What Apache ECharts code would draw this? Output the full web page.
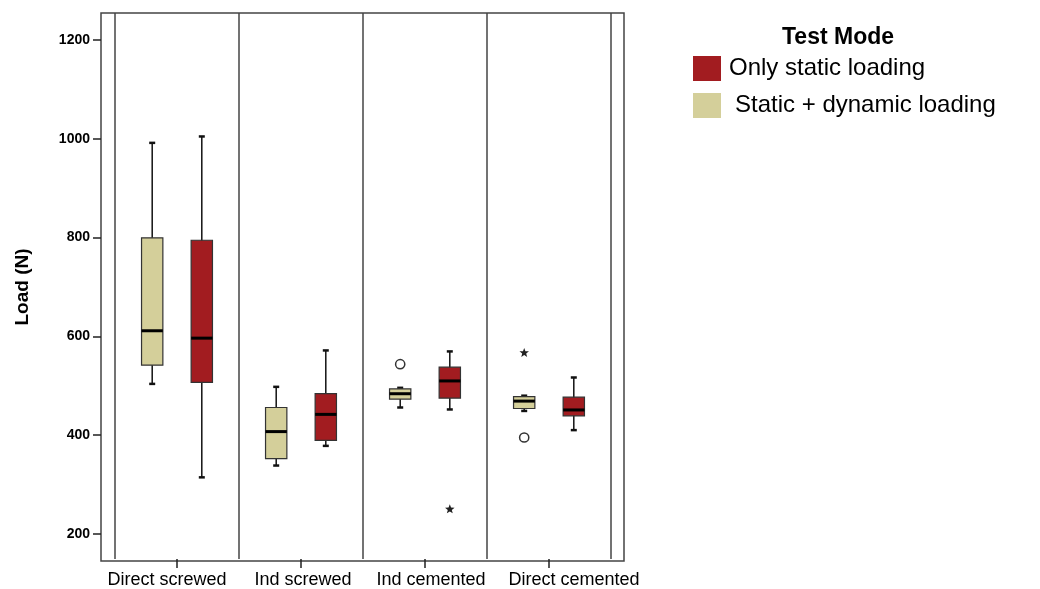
<!DOCTYPE html>
<html>
<head>
<meta charset="utf-8">
<title>Load by implant connection and test mode</title>
<script src="https://cdn.jsdelivr.net/npm/echarts@6/dist/echarts.min.js"></script>
<style>
  html, body { margin: 0; padding: 0; background: #fff; }
  #chart { width: 1040px; height: 589px; }
</style>
</head>
<body>
<div id="chart"></div>
<script>
// Connection types along the x axis
const categories = ['Direct screwed', 'Ind screwed', 'Ind cemented', 'Direct cemented'];

// Five-number summaries per category: [min, Q1, median, Q3, max] in N
const staticDynamic = [
  [501, 539, 609, 798, 991],
  [335, 349, 404, 453, 495],
  [453, 470, 481, 491, 493],
  [446, 451, 466, 475, 477]
];
const onlyStatic = [
  [311, 504, 594, 793, 1004],
  [375, 386, 439, 481, 569],
  [449, 472, 507, 535, 567],
  [407, 436, 448, 474, 514]
];

// Outliers: [category index, load, marker]
const staticDynamicOutliers = [
  [2, 541, 'circle'],
  [3, 564, 'star'],
  [3, 392, 'circle']
];
const onlyStaticOutliers = [
  [2, 246, 'star']
];

const yTicks = [200, 400, 600, 800, 1000, 1200];
const yMin = 145;
const yMax = 1255;

const TAN = '#D4CF9A';
const RED = '#A21C20';
const FONT = '"Liberation Sans", Arial, Helvetica, sans-serif';

// Boxes sit left (-1) or right (+1) of the category centre
const SIDE_SHIFT = 0.2;   // fraction of the band
const BOX_HALF = 0.086;   // fraction of the band

// Horizontal nudges of the category labels (px, + moves right)
const labelNudge = [-10, 2, 6, 25];

function boxRenderer(side, fill) {
  return function (params, api) {
    const cat = api.value(0);
    const band = api.size([1, 0])[0];
    const cx = api.coord([cat, 0])[0] + side * band * SIDE_SHIFT;
    const half = band * BOX_HALF;
    const y = (v) => api.coord([cat, v])[1];
    const yLo = y(api.value(1));
    const yQ1 = y(api.value(2));
    const yMed = y(api.value(3));
    const yQ3 = y(api.value(4));
    const yHi = y(api.value(5));
    const capHalf = 3;
    const line = { stroke: '#111', lineWidth: 1.5 };
    return {
      type: 'group',
      children: [
        { type: 'line', shape: { x1: cx, y1: yHi, x2: cx, y2: yLo }, style: line },
        { type: 'line', shape: { x1: cx - capHalf, y1: yHi, x2: cx + capHalf, y2: yHi }, style: { stroke: '#111', lineWidth: 2.5 } },
        { type: 'line', shape: { x1: cx - capHalf, y1: yLo, x2: cx + capHalf, y2: yLo }, style: { stroke: '#111', lineWidth: 2.5 } },
        { type: 'rect', shape: { x: cx - half, y: yQ3, width: half * 2, height: yQ1 - yQ3 },
          style: { fill: fill, stroke: '#333', lineWidth: 1.2 } },
        { type: 'line', shape: { x1: cx - half, y1: yMed, x2: cx + half, y2: yMed },
          style: { stroke: '#000', lineWidth: 3 } }
      ]
    };
  };
}

function starPoints(cx, cy, rOuter, rInner) {
  const pts = [];
  for (let i = 0; i < 10; i++) {
    const r = i % 2 === 0 ? rOuter : rInner;
    const a = -Math.PI / 2 + i * Math.PI / 5;
    pts.push([cx + r * Math.cos(a), cy + r * Math.sin(a)]);
  }
  return pts;
}

function outlierRenderer(side) {
  return function (params, api) {
    const cat = api.value(0);
    const band = api.size([1, 0])[0];
    const pt = api.coord([cat, api.value(1)]);
    const cx = pt[0] + side * band * SIDE_SHIFT;
    const cy = pt[1];
    const kind = api.value(2);
    if (kind === 'star') {
      return { type: 'polygon', shape: { points: starPoints(cx, cy, 5, 2.1) }, style: { fill: '#222' } };
    }
    return { type: 'circle', shape: { cx: cx, cy: cy, r: 4.6 },
      style: { fill: '#fff', stroke: '#333', lineWidth: 1.5 } };
  };
}

const boxData = (rows) => rows.map((r, i) => [i].concat(r));

// rich styles that shift each category label sideways
const labelRich = {};
labelNudge.forEach((n, i) => {
  labelRich['c' + i] = {
    fontFamily: FONT, fontSize: 18, color: '#000',
    padding: n >= 0 ? [0, 0, 0, 2 * n] : [0, -2 * n, 0, 0]
  };
});

const chart = echarts.init(document.getElementById('chart'), null, { renderer: 'canvas' });

chart.setOption({
  animation: false,
  backgroundColor: '#fff',
  textStyle: { fontFamily: FONT },
  title: {
    text: 'Test Mode',
    left: 782,
    top: 26,
    padding: 0,
    textStyle: { fontFamily: FONT, fontSize: 23, fontWeight: 'bold', color: '#000' }
  },
  legend: {
    data: [
      { name: 'Only static loading' },
      { name: 'Static + dynamic loading', textStyle: { padding: [0, 0, 0, 9] } }
    ],
    orient: 'vertical',
    left: 693,
    top: 56,
    padding: 0,
    itemWidth: 28,
    itemHeight: 25,
    itemGap: 12,
    icon: 'rect',
    selectedMode: false,
    textStyle: { fontFamily: FONT, fontSize: 24, color: '#000', padding: [0, 0, 0, 3] }
  },
  grid: [
    // outer frame, carries the value axis
    { left: 101, top: 13, width: 523, height: 548, show: true,
      borderColor: '#444', borderWidth: 1.5, backgroundColor: 'transparent' },
    // category area inside the frame
    { left: 115, top: 13, width: 496, height: 548 }
  ],
  xAxis: [
    { gridIndex: 0, type: 'value', show: false, min: 0, max: 1 },
    {
      gridIndex: 1,
      type: 'category',
      data: categories,
      axisLine: { show: false },
      axisTick: { show: true, interval: 0, alignWithLabel: true, length: 9, lineStyle: { color: '#222', width: 1.5 } },
      axisLabel: {
        interval: 0, fontFamily: FONT, fontSize: 18, color: '#000', margin: 12,
        formatter: (value, index) => '{c' + index + '|' + value + '}',
        rich: labelRich
      },
      splitLine: { show: true, interval: 0, lineStyle: { color: '#444', width: 1.5 } }
    }
  ],
  yAxis: [
    {
      gridIndex: 0,
      type: 'value',
      min: yMin,
      max: yMax,
      name: 'Load (N)',
      nameLocation: 'middle',
      nameGap: 69,
      nameRotate: 90,
      nameTextStyle: { fontFamily: FONT, fontSize: 19, fontWeight: 'bold', color: '#000' },
      axisLine: { show: false },
      axisTick: { show: true, length: 8, customValues: yTicks, lineStyle: { color: '#222', width: 1.5 } },
      axisLabel: {
        customValues: yTicks,
        formatter: (v) => String(v),
        fontFamily: FONT, fontSize: 14, fontWeight: 'bold', color: '#000', margin: 11
      },
      splitLine: { show: false }
    },
    { gridIndex: 1, type: 'value', min: yMin, max: yMax, show: false }
  ],
  series: [
    {
      name: 'Static + dynamic loading',
      type: 'custom',
      xAxisIndex: 1, yAxisIndex: 1,
      itemStyle: { color: TAN },
      encode: { x: 0, y: [1, 2, 3, 4, 5] },
      renderItem: boxRenderer(-1, TAN),
      data: boxData(staticDynamic),
      z: 3
    },
    {
      name: 'Only static loading',
      type: 'custom',
      xAxisIndex: 1, yAxisIndex: 1,
      itemStyle: { color: RED },
      encode: { x: 0, y: [1, 2, 3, 4, 5] },
      renderItem: boxRenderer(1, RED),
      data: boxData(onlyStatic),
      z: 3
    },
    {
      name: 'Static + dynamic outliers',
      type: 'custom',
      xAxisIndex: 1, yAxisIndex: 1,
      encode: { x: 0, y: 1 },
      renderItem: outlierRenderer(-1),
      data: staticDynamicOutliers,
      z: 4
    },
    {
      name: 'Only static outliers',
      type: 'custom',
      xAxisIndex: 1, yAxisIndex: 1,
      encode: { x: 0, y: 1 },
      renderItem: outlierRenderer(1),
      data: onlyStaticOutliers,
      z: 4
    }
  ]
});
</script>
</body>
</html>
